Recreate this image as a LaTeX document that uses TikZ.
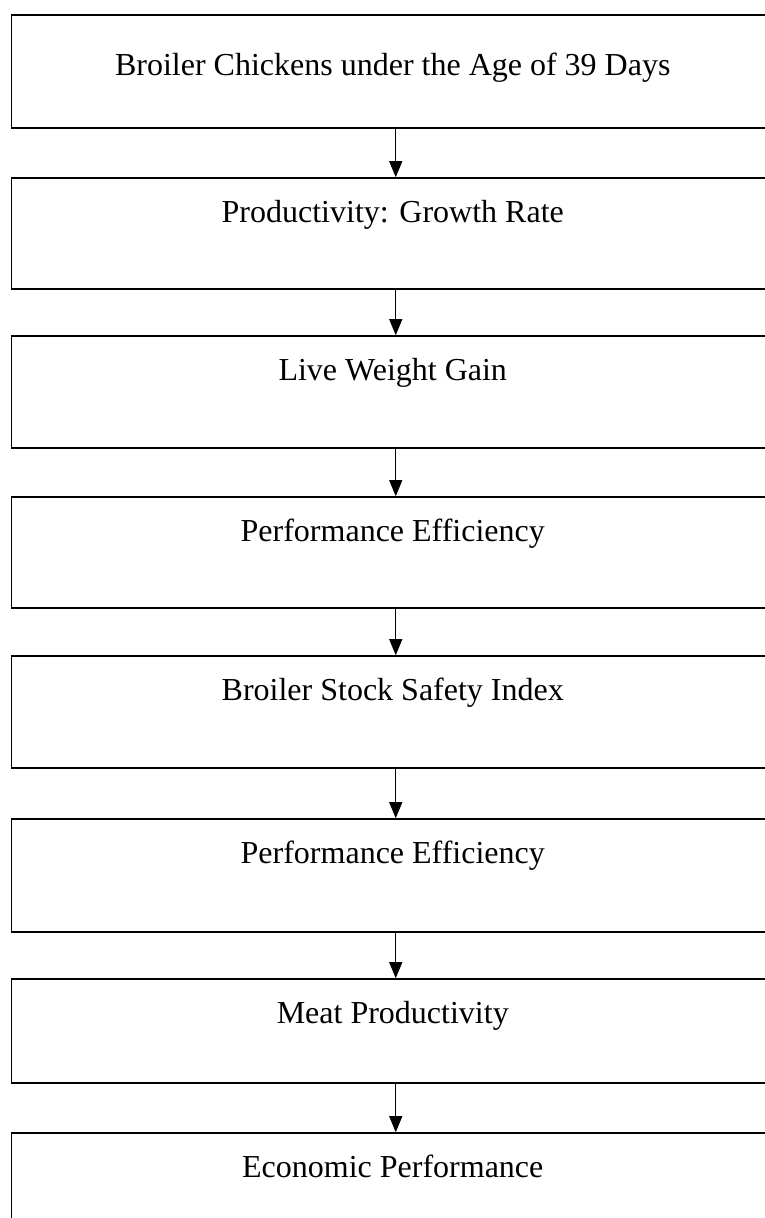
\documentclass[tikz,border=0pt]{standalone}
\usepackage{fontspec}
\setmainfont{Liberation Serif}
\usetikzlibrary{arrows.meta}
\tikzset{
  stage/.style={draw,line width=1.6pt,minimum width=768.5pt,inner sep=0pt},
  caption/.style={anchor=base,xshift=-3pt,yshift=-45pt},
  flow/.style={line width=1pt,-{Triangle[width=13pt,length=16pt]}}
}
\begin{document}
\begin{tikzpicture}[x=1pt,y=-1pt,font=\fontsize{32}{38}\selectfont]
  \useasboundingbox (0,0) rectangle (764,1218);
  \node[stage,minimum height=113pt,label={[caption,yshift=-16pt]north:Broiler Chickens under the Age of 39 Days}] (age) at (395.75,71.5) {};
  \node[stage,minimum height=111pt,label={[caption]north:Productivity: Growth Rate}] (growth) at (395.75,233.5) {};
  \node[stage,minimum height=112pt,label={[caption]north:Live Weight Gain}] (gain) at (395.75,392) {};
  \node[stage,minimum height=111pt,label={[caption]north:Performance Efficiency}] (perf) at (395.75,552.5) {};
  \node[stage,minimum height=112pt,label={[caption]north:Broiler Stock Safety Index}] (safety) at (395.75,712) {};
  \node[stage,minimum height=113pt,label={[caption]north:Performance Efficiency}] (perftwo) at (395.75,875.5) {};
  \node[stage,minimum height=104pt,label={[caption]north:Meat Productivity}] (meat) at (395.75,1031) {};
  \node[stage,minimum height=113pt,label={[caption]north:Economic Performance}] (econ) at (395.75,1189.5) {};
  % arrows between stages
  \draw[flow] (age) -- (growth);
  \draw[flow] (growth) -- (gain);
  \draw[flow] (gain) -- (perf);
  \draw[flow] (perf) -- (safety);
  \draw[flow] (safety) -- (perftwo);
  \draw[flow] (perftwo) -- (meat);
  \draw[flow] (meat) -- (econ);
\end{tikzpicture}
\end{document}
